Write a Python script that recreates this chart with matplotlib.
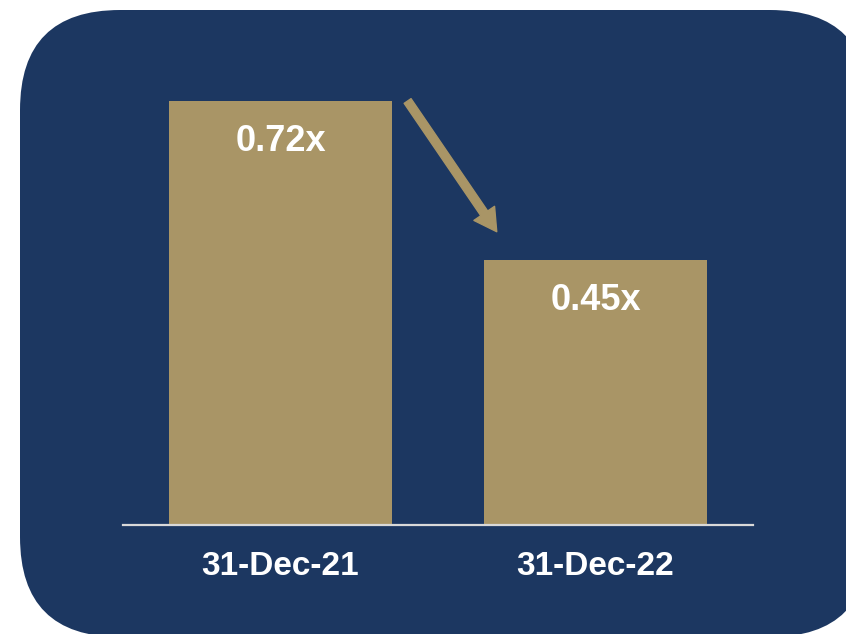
import matplotlib
matplotlib.use("Agg")
import matplotlib.pyplot as plt
import matplotlib.patches as mpatches

# data
dates = ["31-Dec-21", "31-Dec-22"]
ratios = [0.72, 0.45]
labels = ["0.72x", "0.45x"]

navy = "#1C3761"
gold = "#A99566"
font = ["Liberation Sans Narrow", "Liberation Sans", "DejaVu Sans"]

fig = plt.figure(figsize=(8.46, 6.34), dpi=100)
fig.patch.set_facecolor("white")

# rounded navy panel (inches, so corners stay circular)
panel = mpatches.FancyBboxPatch((0.2, -0.03), 8.5, 6.27,
                                boxstyle="round,pad=0,rounding_size=1.0",
                                transform=fig.dpi_scale_trans,
                                facecolor=navy, edgecolor="none", zorder=-5)
fig.patches.append(panel)

ax = fig.add_axes([123 / 846, 109 / 634, 630 / 846, 0.8 * 588.9 / 634])
ax.set_zorder(2)
ax.set_facecolor("none")
width = 0.707
x = list(range(len(dates)))
ax.bar(x, ratios, width=width, color=gold, zorder=2)
ax.set_xlim(-0.5, 1.5)
ax.set_ylim(0, 0.8)

for xi, v, lab in zip(x, ratios, labels):
    ax.text(xi, v - 0.062, lab, ha="center", va="center_baseline", color="white",
            fontsize=26, fontweight="bold", family=font)

for s in ["top", "right", "left"]:
    ax.spines[s].set_visible(False)
ax.spines["bottom"].set_color("#D9D9D9")
ax.spines["bottom"].set_linewidth(1.6)
ax.set_yticks([])
ax.set_xticks(x)
ax.set_xticklabels(dates, color="white", fontsize=24, fontweight="bold",
                   family=font)
ax.tick_params(axis="x", length=0, pad=19)

# downward arrow between bars
arrow = mpatches.FancyArrowPatch((width / 2 + 0.05, ratios[0]),
                                 (1 - width / 2 + 0.04, ratios[1] + 0.048),
                                 arrowstyle="simple,head_width=18,head_length=16,tail_width=6",
                                 mutation_scale=1, color=gold,
                                 shrinkA=0, shrinkB=0, zorder=3)
ax.add_patch(arrow)

fig.savefig("out.png", dpi=100, facecolor=fig.get_facecolor())
